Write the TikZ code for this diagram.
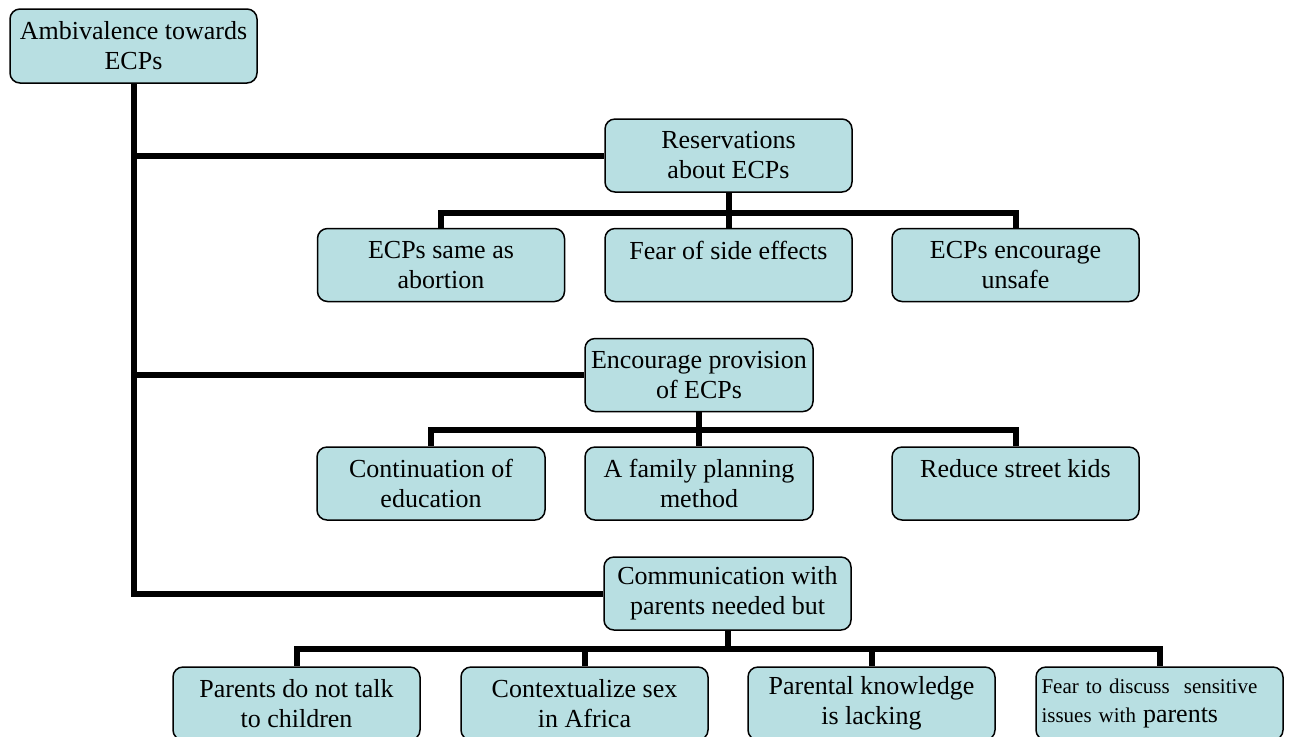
\documentclass[tikz,border=0pt]{standalone}
\usepackage{fontspec}
\setmainfont{Liberation Serif}
\usetikzlibrary{positioning}
\definecolor{boxfill}{RGB}{184,223,226}

\begin{document}
\begin{tikzpicture}[x = 0.5pt, y = 0.5pt,
    theme node/.style={draw=black, line width=0.75pt, fill=boxfill, rounded corners=5pt,
      minimum width=123.5pt, minimum height=36.5pt, align=center, inner sep=2pt,
      font=\fontsize{13}{15}\selectfont},
    narrow node/.style={theme node, minimum width=114pt},
    link/.style={line width=3pt, draw=black}]
      \clip (0, 0) rectangle (1290, -736);
      % main theme and sub themes
      \node[theme node, minimum height=37pt] (amb) at (133.5, -46) {Ambivalence towards\\ECPs};
      \node[theme node] (res) at (728.5, -155.5) {Reservations\\about ECPs};
      \node[narrow node] (enc) at (699, -375) {Encourage provision\\of ECPs};
      \node[theme node] (com) at (727.5, -593.5) {Communication with\\parents needed but};
      % reservations
      \node[theme node] (r1) at (441, -265) {ECPs same as\\abortion};
      \node[theme node] (r2) at (728.5, -265) {Fear of side effects\\\phantom{A}};
      \node[theme node] (r3) at (1015.5, -265) {ECPs encourage\\unsafe};
      % provision
      \node[narrow node] (p1) at (431, -483.5) {Continuation of\\education};
      \node[narrow node] (p2) at (699, -483.5) {A family planning\\method};
      \node[theme node] (p3) at (1015.5, -483.5) {Reduce street kids\\\phantom{A}};
      % communication
      \node[theme node] (c1) at (296.5, -703.5) {Parents do not talk\\to children};
      \node[theme node] (c2) at (584.5, -703.5) {Contextualize sex\\in Africa};
      \node[theme node] (c3) at (871.5, -703.5) {Parental knowledge\\is lacking};
      \node[theme node, align=left, text width=118pt, inner xsep=1.5pt,
        font=\fontsize{10.5}{14.5}\selectfont] (c4) at (1159.5, -703.5)
        {Fear to discuss\ \ sensitive\\issues with {\fontsize{13}{14.5}\selectfont parents}};
      % trunk
      \draw[link] (amb.south) |- (com.west);
      \draw[link] (amb.south |- res.west) -- (res.west);
      \draw[link] (amb.south |- enc.west) -- (enc.west);
      % branches
      \draw[link] (res.south) -- ++(0, -20) -| (r1.north);
      \draw[link] (res.south) -- (r2.north);
      \draw[link] (res.south) -- ++(0, -20) -| (r3.north);
      \draw[link] (enc.south) -- ++(0, -18) -| (p1.north);
      \draw[link] (enc.south) -- (p2.north);
      \draw[link] (enc.south) -- ++(0, -18) -| (p3.north);
      \draw[link] (com.south) -- ++(0, -18) -| (c1.north);
      \draw[link] (com.south) -- ++(0, -18) -| (c2.north);
      \draw[link] (com.south) -- ++(0, -18) -| (c3.north);
      \draw[link] (com.south) -- ++(0, -18) -| (c4.north);
    \end{tikzpicture}
\end{document}
